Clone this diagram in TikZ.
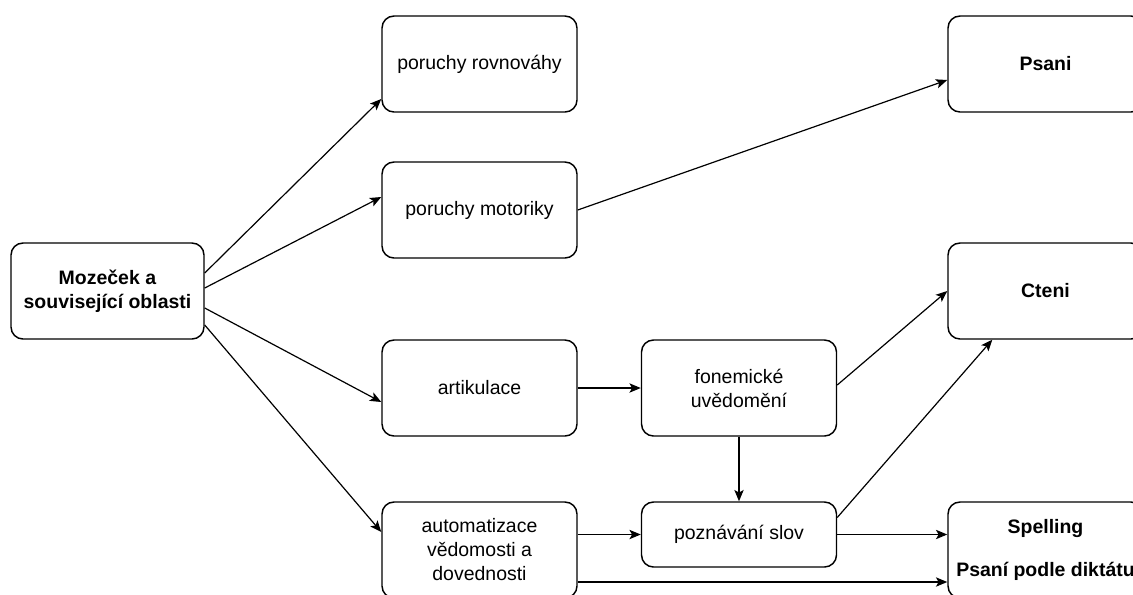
\documentclass[tikz,border=0pt]{standalone}
\usepackage{fontspec}
\setmainfont{Liberation Sans}
\usepackage{tikz}
\usetikzlibrary{arrows.meta, calc}
\tikzset{
	box/.style={
		draw, rectangle, rounded corners=9pt,
		line width=1.1pt,
		minimum width=146.25pt,
		minimum height=72pt,
		align=center, text centered,
		font=\fontsize{14.6pt}{18pt}\selectfont
	},
	flat/.style={box, minimum height=48.75pt},
	link/.style={-{Stealth[length=8.5pt, width=7pt, inset=2pt]}, line width=0.9pt},
}

\begin{document}
\begin{tikzpicture}[x=0.75pt, y=-0.75pt]
		\clip (0,0) rectangle (1133,594);
		% the boxes
		\node[box, minimum width=144.75pt] (moz) at (107.5,291) {\textbf{Mozeček a}\\ \textbf{související oblasti}};
		\node[box] (rov) at (479.5,64)  {poruchy rovnováhy};
		\node[box] (mot) at (479.5,210) {poruchy motoriky};
		\node[box] (art) at (479.5,388) {artikulace};
		\node[box] (aut) at (479.5,550) {automatizace\\ vědomosti a\\ dovednosti};
		\node[box] (fon) at (739,388)   {fonemické\\ uvědomění};
		\node[flat] (poz) at (739,534.5) {poznávání slov};
		\node[box] (psa) at (1045.5,64)  {\textbf{Psani}};
		\node[box] (cte) at (1045.5,291) {\textbf{Cteni}};
		\node[box] (spe) at (1045.5,550) {\textbf{Spelling}\\[14pt] \textbf{Psaní podle diktátu}};

		% the arrows
		\begin{scope}[link]
		\draw ($(moz.east)+(0,-18)$) -- ($(rov.west)+(0,35)$);
		\draw ($(moz.east)+(0,-3)$)  -- ($(mot.west)+(0,-13)$);
		\draw ($(moz.east)+(0,17)$)  -- ($(art.west)+(0,14)$);
		\draw ($(moz.east)+(0,34)$)  -- ($(aut.west)+(0,-18)$);
		\draw (mot.east) -- ($(psa.west)+(0,16)$);
		\draw (art.east) -- (fon.west);
		\draw (fon.south) -- (poz.north);
		\draw ($(fon.east)+(0,-3)$) -- (cte.west);
		\draw ($(poz.east)+(0,-17)$) -- ($(cte.south west)+(45,0)$);
		\draw (aut.east |- poz.west) -- (poz.west);
		\draw (poz.east) -- (poz.east -| spe.west);
		\draw ($(aut.east)+(0,32)$) -- ($(spe.west)+(0,32)$);
		\end{scope}
	\end{tikzpicture}
\end{document}
